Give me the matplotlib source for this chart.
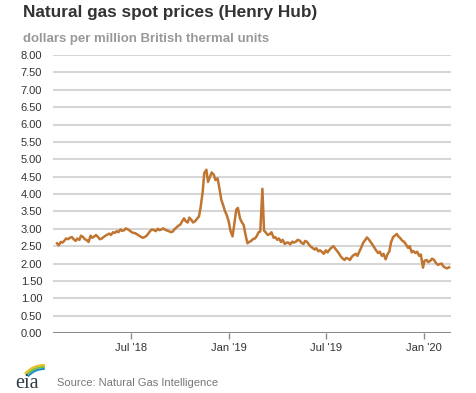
import matplotlib
matplotlib.use('Agg')
import matplotlib.pyplot as plt
from matplotlib.patches import Arc
import pandas as pd

plt.rcParams['font.family'] = ['Liberation Sans', 'DejaVu Sans']

# Henry Hub spot prices ($/MMBtu)
# one value per week (Mondays) plus one mid-week value (Thursdays)
week_start = '2018-02-12'
prices = [2.58, 2.62, 2.66, 2.70, 2.76, 2.65, 2.68, 2.76, 2.67, 2.80,
          2.78, 2.76, 2.72, 2.80, 2.86, 2.90, 2.93, 2.98, 2.96, 2.98,
          2.90, 2.87, 2.80, 2.74, 2.80, 2.94, 2.96, 3.00, 2.98, 2.97,
          2.93, 2.92, 3.04, 3.12, 3.30, 3.18, 3.25, 3.22, 3.35, 4.05,
          4.70, 4.50, 4.55, 4.45, 3.83, 3.50, 3.20, 2.78, 3.55, 3.30,
          3.10, 2.58, 2.65, 2.72, 2.90, 4.15, 2.88, 2.85, 2.74, 2.68,
          2.62, 2.56, 2.60, 2.63, 2.63, 2.66, 2.56, 2.62, 2.48, 2.40,
          2.35, 2.33, 2.38, 2.40, 2.50, 2.36, 2.20, 2.10, 2.14, 2.20,
          2.28, 2.35, 2.60, 2.75, 2.62, 2.45, 2.30, 2.22, 2.12, 2.35,
          2.76, 2.85, 2.72, 2.62, 2.45, 2.32, 2.30, 2.22, 1.88, 2.10,
          2.08, 2.10, 1.96, 2.00, 1.88, 1.89]
mid_prices = [2.52, 2.60, 2.72, 2.74, 2.70, 2.72, 2.80, 2.70, 2.62, 2.74,
              2.82, 2.70, 2.76, 2.83, 2.82, 2.88, 2.90, 2.94, 3.01, 2.95,
              2.88, 2.84, 2.77, 2.76, 2.86, 2.98, 2.93, 2.96, 3.01, 2.95,
              2.90, 2.98, 3.08, 3.20, 3.22, 3.32, 3.18, 3.28, 3.60, 4.60,
              4.35, 4.62, 4.40, 4.20, 3.70, 3.40, 2.95, 3.10, 3.60, 3.20,
              2.85, 2.62, 2.70, 2.78, 2.92, 2.95, 2.82, 2.90, 2.76, 2.72,
              2.68, 2.60, 2.55, 2.60, 2.68, 2.60, 2.65, 2.55, 2.45, 2.44,
              2.38, 2.28, 2.32, 2.45, 2.44, 2.30, 2.15, 2.16, 2.10, 2.24,
              2.22, 2.45, 2.66, 2.70, 2.55, 2.38, 2.34, 2.28, 2.25, 2.60,
              2.80, 2.78, 2.66, 2.55, 2.50, 2.36, 2.34, 2.26, 2.08, 2.04,
              2.14, 2.02, 1.98, 1.92, 1.86]

mondays = pd.date_range(week_start, periods=len(prices), freq='7D')
thursdays = pd.date_range(pd.Timestamp(week_start) + pd.Timedelta(days=3),
                          periods=len(mid_prices), freq='7D')
s = pd.concat([pd.Series(prices, index=mondays),
               pd.Series(mid_prices, index=thursdays)]).sort_index()

yticks = [i * 0.5 for i in range(17)]
xticks = ['2018-07-01', '2019-01-01', '2019-07-01', '2020-01-01']
xlabels = ["Jul '18", "Jan '19", "Jul '19", "Jan '20"]

W, H = 477, 393
fig = plt.figure(figsize=(W / 100, H / 100), dpi=100)
ax = fig.add_axes([53.3 / W, (H - 333) / H, (450.7 - 53.3) / W, (333 - 55) / H])

ax.plot(s.index, s.values, color='#c07530', lw=1.8, zorder=3)

ax.set_ylim(0, 8)
ax.set_xlim(pd.Timestamp('2018-02-05'), pd.Timestamp('2020-02-20'))
ax.set_yticks(yticks)
ax.set_yticklabels(['%.2f' % v for v in yticks])
ax.set_xticks(pd.to_datetime(xticks))
ax.set_xticklabels(xlabels)

for v in yticks[1:]:
    ax.axhline(v, color='#d6d6d6', lw=1.5, zorder=1)
ax.axhline(0, color='#8a8a8a', lw=2.2, zorder=2)

for sp in ax.spines.values():
    sp.set_visible(False)
ax.tick_params(axis='y', length=0, pad=8, labelsize=8, labelcolor='#333333')
ax.tick_params(axis='x', length=4, width=1, color='#8a8a8a', pad=3,
               labelsize=8, labelcolor='#333333')

fig.text(23 / W, 1 - 17.3 / H, 'Natural gas spot prices (Henry Hub)',
         fontsize=12.4, fontweight='bold', color='#333333', va='baseline')
fig.text(23 / W, 1 - 41.7 / H, 'dollars per million British thermal units',
         fontsize=9.5, fontweight='bold', color='#999999', va='baseline')
fig.text(57 / W, 1 - 386 / H, 'Source: Natural Gas Intelligence',
         fontsize=8, color='#777777', va='baseline')

# eia logo
fig.text(15 / W, 1 - 388 / H, 'eia', family=['Liberation Serif', 'DejaVu Serif'],
         fontsize=14.5, color='#2f3b45', va='baseline')
ov = fig.add_axes([0, 0, 1, 1])
ov.set_xlim(0, W)
ov.set_ylim(0, H)
ov.axis('off')
for r, c in [(25, '#f2c01e'), (23, '#7cbf3a'), (21, '#1f8ec9')]:
    ov.add_patch(Arc((44, H - 390), 2 * r, 2 * r, theta1=88, theta2=140, color=c, lw=1.5))

fig.savefig('out.png', dpi=100)
